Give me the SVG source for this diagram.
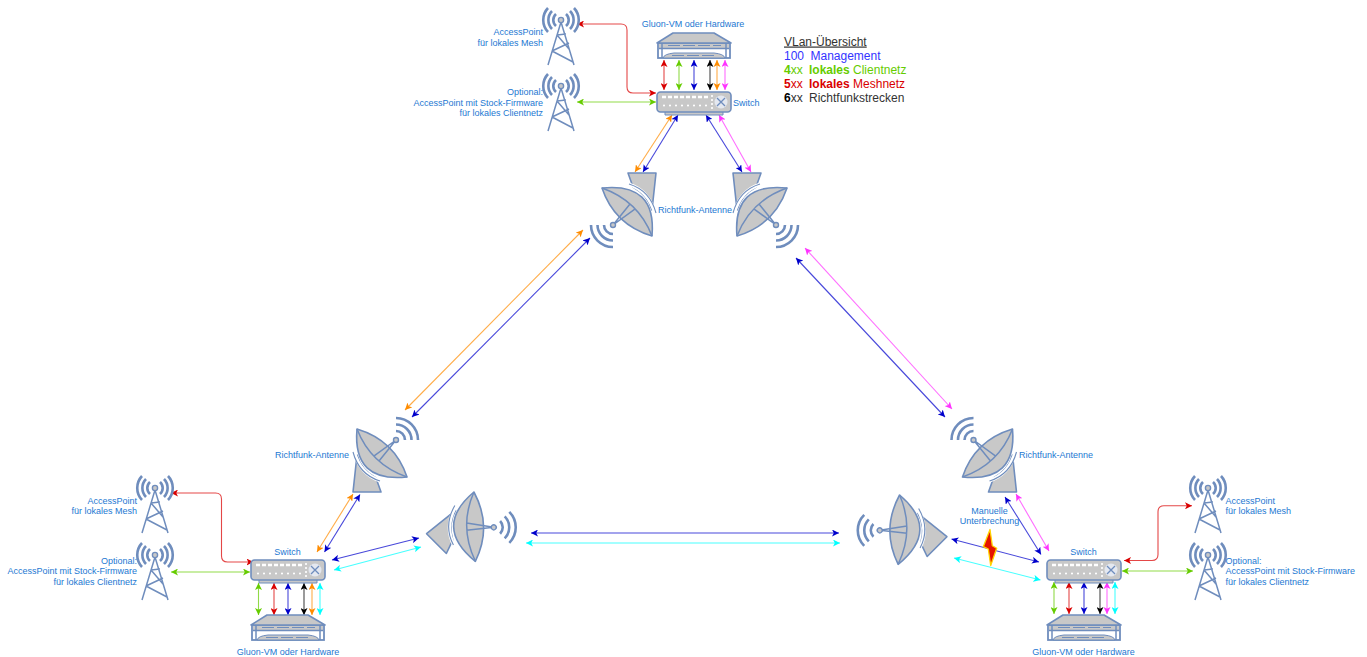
<svg xmlns="http://www.w3.org/2000/svg" width="1367" height="657" viewBox="0 0 1367 657">
<style>
text{font-family:"Liberation Sans",Arial,sans-serif;font-size:9px;fill:#1c78d2}
.e{text-anchor:end}.m{text-anchor:middle}
.lg{font-size:12px}
.o{fill:none;stroke:#6f8dbd;stroke-width:1.500}
.f{fill:#c8c8c8;stroke:#6f8dbd;stroke-width:1.600;stroke-linejoin:round}
.w{fill:none;stroke:#6f8dbd;stroke-width:2.600}
.c{fill:none;stroke-width:1.100;stroke-opacity:.72}
.r{stroke:#d90000;marker-start:url(#ar);marker-end:url(#ar)}
.g{stroke:#66cc00;marker-start:url(#ag);marker-end:url(#ag)}
.b{stroke:#0000cc;marker-start:url(#ab);marker-end:url(#ab)}
.k{stroke:#000;marker-start:url(#ak);marker-end:url(#ak)}
.n{stroke:#ff8c00;marker-start:url(#an);marker-end:url(#an)}
.p{stroke:#ff33ff;marker-start:url(#ap);marker-end:url(#ap)}
.y{stroke:#00ffff;marker-start:url(#ay);marker-end:url(#ay)}
</style>
<defs>
<marker id="ar" viewBox="0 0 8 8" refX="8" refY="4" markerWidth="7" markerHeight="7" markerUnits="userSpaceOnUse" orient="auto-start-reverse"><path d="M8,4L0,0L2,4L0,8Z" fill="#d90000"/></marker>
<marker id="ag" viewBox="0 0 8 8" refX="8" refY="4" markerWidth="7" markerHeight="7" markerUnits="userSpaceOnUse" orient="auto-start-reverse"><path d="M8,4L0,0L2,4L0,8Z" fill="#66cc00"/></marker>
<marker id="ab" viewBox="0 0 8 8" refX="8" refY="4" markerWidth="7" markerHeight="7" markerUnits="userSpaceOnUse" orient="auto-start-reverse"><path d="M8,4L0,0L2,4L0,8Z" fill="#0000cc"/></marker>
<marker id="ak" viewBox="0 0 8 8" refX="8" refY="4" markerWidth="7" markerHeight="7" markerUnits="userSpaceOnUse" orient="auto-start-reverse"><path d="M8,4L0,0L2,4L0,8Z" fill="#000"/></marker>
<marker id="an" viewBox="0 0 8 8" refX="8" refY="4" markerWidth="7" markerHeight="7" markerUnits="userSpaceOnUse" orient="auto-start-reverse"><path d="M8,4L0,0L2,4L0,8Z" fill="#ff8c00"/></marker>
<marker id="ap" viewBox="0 0 8 8" refX="8" refY="4" markerWidth="7" markerHeight="7" markerUnits="userSpaceOnUse" orient="auto-start-reverse"><path d="M8,4L0,0L2,4L0,8Z" fill="#ff33ff"/></marker>
<marker id="ay" viewBox="0 0 8 8" refX="8" refY="4" markerWidth="7" markerHeight="7" markerUnits="userSpaceOnUse" orient="auto-start-reverse"><path d="M8,4L0,0L2,4L0,8Z" fill="#00ffff"/></marker>
<g id="tower">
<path class="o" d="M561,22L548,65M561,22L574,65M557,35L566,34M557,35L569,49M552,51L569,43M552,51L573,62"/>
<circle cx="561" cy="20" r="2.600" fill="#c8c8c8" stroke="#6f8dbd" stroke-width="1.400"/>
<path class="w" d="M556,14A8,8 0 0 0 556,26M566,14A8,8 0 0 1 566,26M552,11A13,13 0 0 0 552,29M570,11A13,13 0 0 1 570,29M548,8A17.5,17.5 0 0 0 548,32M574,8A17.5,17.5 0 0 1 574,32"/>
</g>
<g id="server">
<rect x="658" y="43" width="72" height="15" fill="#fff" stroke="#6f8dbd" stroke-width="1.800"/>
<rect x="659" y="44" width="70" height="4.500" fill="#c8c8c8"/>
<path class="o" d="M662,43V58M726,43V58M659,48.500H729"/>
<path d="M663,58Q664,54 674,53H714Q724,54 725,58Z" fill="#c8c8c8" stroke="#6f8dbd"/>
<path class="f" d="M657,43L673,33H714L731,43Z"/>
<path d="M668,45.500H680M683,45.500H695M698,45.500H710M713,45.500H721M672,55.500H684M687,55.500H699M702,55.500H714" stroke="#6f8dbd" stroke-width="1" fill="none"/>
</g>
<g id="switch">
<rect class="f" x="665" y="110" width="58" height="5" style="stroke-width:1"/>
<rect class="f" x="657" y="92" width="74" height="20" rx="3.500"/>
<path d="M662,97h4M668,97h4M674,97h4M680,97h4M686,97h4M692,97h4M698,97h4M704,97h4" stroke="#fff" stroke-width="2.500"/>
<path d="M664,105.500h.01M670,105.500h.01M676,105.500h.01M682,105.500h.01M688,105.500h.01M694,105.500h.01M700,105.500h.01M706,105.500h.01M712,96h.01M712,100h.01M712,104h.01M712,108h.01" stroke="#fff" stroke-width="2.200" stroke-linecap="round"/>
<circle cx="721" cy="102" r="6.500" fill="#e4e8f0"/>
<path d="M717,98L725,106M725,98L717,106" stroke="#6f8dbd" stroke-width="1.300"/>
</g>
<g id="dish">
<path class="f" d="M628,173H656L652,210Q648,195 633,187Z"/>
<path d="M628,184C641,188 651,198 655,214" fill="none" stroke="#fff" stroke-width="3.500"/>
<path class="o" d="M629,184C642,188 652,198 656,213" style="stroke-width:1.100"/>
<path class="f" d="M602,188Q656.700,182.300 652,236Q614.300,224.700 602,188Z"/>
<path class="o" d="M602,188Q638.300,200.700 652,236M613,225L630.200,203.800M613,225L635.200,208.800"/>
<circle cx="613" cy="225" r="2.500" fill="#c8c8c8" stroke="#6f8dbd" stroke-width="1.400"/>
<path class="w" d="M604,225A9,9 0 0 0 613,234M597.500,225A15.500,15.500 0 0 0 613,240.500M591,225A22,22 0 0 0 613,247"/>
</g>
</defs>

<g id="connectors">
<path class="c r" d="M577,24H621Q627,24 627,30V87Q627,93 633,93H656"/>
<path class="c g" d="M577,102H656"/>
<path class="c r" d="M664,60V90"/><path class="c g" d="M679,60V90"/><path class="c b" d="M694,60V90"/><path class="c k" d="M710,60V90"/><path class="c n" d="M717,60V90"/><path class="c p" d="M725,60V90"/>
<path class="c n" d="M672,115L635,172"/><path class="c b" d="M678,115L643,172"/><path class="c b" d="M706,115L742,172"/><path class="c p" d="M719,115L751,172"/>
<path class="c n" d="M583,230L405,410"/><path class="c b" d="M590,238L412,417"/>
<path class="c p" d="M805,248L952,409"/><path class="c b" d="M796,258L945,417"/>
<path class="c n" d="M353,494L317,552"/><path class="c b" d="M360,494.500L324.500,552"/>
<path class="c b" d="M332,560L419,538"/><path class="c y" d="M334,570L421,547"/>
<path class="c r" d="M171,493H215.500Q221.500,493 221.500,499V556Q221.500,562 227.500,562H253.500"/>
<path class="c g" d="M171,572H250"/>
<path class="c g" d="M258.500,583V615"/><path class="c r" d="M274,583V615"/><path class="c b" d="M288,583V615"/><path class="c k" d="M304,583V615"/><path class="c n" d="M312,583V615"/><path class="c y" d="M320,583V615"/>
<path class="c b" d="M531,533H839"/><path class="c y" d="M526,543H840"/>
<path class="c p" d="M1016,494L1049,551"/><path class="c b" d="M1005,497L1041,554.500"/>
<path class="c b" d="M951.500,539L1039,562"/><path class="c y" d="M954,558L1040.500,580"/>
<path class="c r" d="M1124,560.500H1152Q1158,560.500 1158,554.500V511.800Q1158,505.800 1164,505.800H1192"/>
<path class="c g" d="M1122,571H1193"/>
<path class="c g" d="M1054,582V614"/><path class="c r" d="M1069,582V614"/><path class="c b" d="M1084,582V614"/><path class="c k" d="M1100,582V614"/><path class="c p" d="M1107,582V614"/><path class="c y" d="M1115,582V614"/>
</g>

<g id="ap-mesh-top"><use href="#tower"/><text class="e" x="543" y="35">AccessPoint</text><text class="e" x="543" y="46">für lokales Mesh</text></g>
<g id="ap-client-top"><use href="#tower" y="66"/><text class="e" x="543" y="95">Optional:</text><text class="e" x="543" y="105.500">AccessPoint mit Stock-Firmware</text><text class="e" x="543" y="116">für lokales Clientnetz</text></g>
<g id="server-top"><use href="#server"/><text class="m" x="693" y="27">Gluon-VM oder Hardware</text></g>
<g id="switch-top"><use href="#switch"/><text x="733" y="106">Switch</text></g>
<g id="dish-top-left"><use href="#dish"/></g>
<g id="dish-top-right"><use href="#dish" transform="translate(1389,0) scale(-1,1)"/><text class="m" x="695" y="213">Richtfunk-Antenne</text></g>

<g id="ap-mesh-left"><use href="#tower" x="-406" y="468"/><text class="e" x="137" y="503.500">AccessPoint</text><text class="e" x="137" y="514">für lokales Mesh</text></g>
<g id="ap-client-left"><use href="#tower" x="-406" y="535"/><text class="e" x="137" y="563.500">Optional:</text><text class="e" x="137" y="574">AccessPoint mit Stock-Firmware</text><text class="e" x="137" y="585">für lokales Clientnetz</text></g>
<g id="switch-left"><use href="#switch" x="-406" y="468"/><text class="m" x="287.500" y="555">Switch</text></g>
<g id="server-left"><use href="#server" x="-406" y="582"/><text class="m" x="288" y="655">Gluon-VM oder Hardware</text></g>
<g id="dish-left-up"><use href="#dish" transform="rotate(180,504.500,332.500)"/><text class="m" x="312" y="458">Richtfunk-Antenne</text></g>
<g id="dish-left-side"><use href="#dish" transform="translate(475,527) rotate(-135) translate(-626.500,-212)"/></g>

<g id="ap-mesh-right"><use href="#tower" x="647" y="468"/><text x="1225.500" y="503.500">AccessPoint</text><text x="1225.500" y="514">für lokales Mesh</text></g>
<g id="ap-client-right"><use href="#tower" x="647" y="535"/><text x="1225.500" y="563.500">Optional:</text><text x="1225.500" y="574">AccessPoint mit Stock-Firmware</text><text x="1225.500" y="585">für lokales Clientnetz</text></g>
<g id="switch-right"><use href="#switch" x="390" y="468"/><text class="m" x="1083.500" y="555">Switch</text></g>
<g id="server-right"><use href="#server" x="390" y="582"/><text class="m" x="1083.500" y="655">Gluon-VM oder Hardware</text></g>
<g id="dish-right-up"><use href="#dish" transform="translate(1369.500,0) scale(-1,1) rotate(180,504.500,332.500)"/><text class="m" x="1056" y="458">Richtfunk-Antenne</text></g>
<g id="dish-right-side"><use href="#dish" transform="translate(898.500,530) scale(-1,1) rotate(-135) translate(-626.500,-212)"/></g>

<g id="interruption">
<path d="M990,529.500L983.300,546.700L988.300,549L990.700,565.500L996.700,548.300L992.300,545.700Z" fill="#e51400" stroke="#ffd400" stroke-width="1.300" stroke-linejoin="round"/>
<text class="m" x="989.500" y="513.500">Manuelle</text><text class="m" x="989.500" y="524">Unterbrechung</text>
</g>

<g id="legend">
<text class="lg" x="784" y="45.500" style="fill:#333;text-decoration:underline">VLan-Übersicht</text>
<text class="lg" x="784" y="59.500" style="fill:#3333ff">100</text><text class="lg" x="810.500" y="59.500" style="fill:#3333ff">Management</text>
<text class="lg" x="784" y="74" style="fill:#66cc00"><tspan font-weight="bold">4</tspan>xx</text><text class="lg" x="809" y="74" style="fill:#66cc00"><tspan font-weight="bold">lokales</tspan> Clientnetz</text>
<text class="lg" x="784" y="88" style="fill:#d90000"><tspan font-weight="bold">5</tspan>xx</text><text class="lg" x="809" y="88" style="fill:#d90000"><tspan font-weight="bold">lokales</tspan> Meshnetz</text>
<text class="lg" x="784" y="102" style="fill:#333"><tspan font-weight="bold" style="fill:#000">6</tspan>xx</text><text class="lg" x="809" y="102" style="fill:#333">Richtfunkstrecken</text>
</g>
</svg>
